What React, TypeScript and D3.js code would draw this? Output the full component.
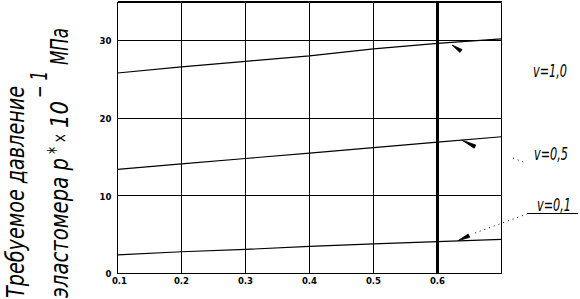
import React, { useEffect, useRef } from "react";
import * as d3 from "d3";

// ratio values along x
const xValues = [0.1, 0.2, 0.3, 0.4, 0.5, 0.6, 0.7];
// required pressure p* x10^-1 MPa for each v
const seriesNu10 = [25.8, 26.6, 27.3, 28.0, 28.9, 29.6, 30.2];
const seriesNu05 = [13.4, 14.1, 14.8, 15.5, 16.2, 16.9, 17.6];
const seriesNu01 = [2.4, 2.8, 3.1, 3.5, 3.8, 4.1, 4.4];
const seriesLabels = ["v=1,0", "v=0,5", "v=0,1"];

const xTicks = [0.1, 0.2, 0.3, 0.4, 0.5, 0.6];
const yTicks = [0, 10, 20, 30];

// pointer wedges [x0, y0, x1, y1] in data units (thin end -> thick end)
const pointers = [
    [0.6227, 29.4, 0.6367, 28.63],
    [0.6378, 17.18, 0.6586, 16.32],
    [0.632, 4.22, 0.6492, 4.86],
];
// label anchor points in data units
const labelPos = [
    [0.7492, 25.3],
    [0.7508, 14.6],
    [0.7555, 8.05],
];
// dotted leaders and underline, in data units
const leaders = [
    [0.718, 14.86, 0.7383, 14.22],
    [0.6586, 5.21, 0.7398, 7.66],
];
const underline = [0.7398, 7.75, 0.8195, 7.75];

const App = () => {
    const chartRef = useRef<HTMLDivElement>(null);

    useEffect(() => {
        const width = 580;
        const height = 299;

        d3.select(chartRef.current).select("svg").remove();

        const svg = d3
            .select(chartRef.current)
            .append("svg")
            .attr("width", width)
            .attr("height", height)
            .style("position", "absolute")
            .style("left", "0px")
            .style("top", "0px")
            .style("background", "#fff");

        const x = d3.scaleLinear().domain([0.1, 0.7]).range([117.5, 501.5]);
        const y = d3.scaleLinear().domain([0, 35]).range([273.5, 1.5]);

        const grid = svg.append("g").attr("stroke", "#000").attr("shape-rendering", "crispEdges");

        // horizontal grid
        grid.selectAll("line.h")
            .data(yTicks.filter((d) => d > 0))
            .join("line")
            .attr("x1", x(0.1))
            .attr("x2", x(0.7))
            .attr("y1", (d) => y(d))
            .attr("y2", (d) => y(d))
            .attr("stroke-width", 1);

        // vertical grid
        grid.selectAll("line.v")
            .data([0.2, 0.3, 0.4, 0.5, 0.6, 0.7])
            .join("line")
            .attr("x1", (d) => x(d))
            .attr("x2", (d) => x(d))
            .attr("y1", y(35))
            .attr("y2", y(0))
            .attr("stroke-width", (d) => (d === 0.6 ? 3 : 1));

        // frame: top thick, left and bottom
        grid.append("line")
            .attr("x1", x(0.1)).attr("x2", x(0.7))
            .attr("y1", y(35) + 0.5).attr("y2", y(35) + 0.5)
            .attr("stroke-width", 2);
        grid.append("line")
            .attr("x1", x(0.1)).attr("x2", x(0.1))
            .attr("y1", y(35)).attr("y2", y(0))
            .attr("stroke-width", 1.5);
        grid.append("line")
            .attr("x1", x(0.1)).attr("x2", x(0.7))
            .attr("y1", y(0)).attr("y2", y(0))
            .attr("stroke-width", 1.5);

        // tick labels
        const tickFont = "'DejaVu Sans Condensed', 'DejaVu Sans', sans-serif";
        svg.append("g")
            .selectAll("text")
            .data(xTicks)
            .join("text")
            .attr("x", (d) => x(d) + (d === 0.1 ? 2 : 0))
            .attr("y", 284)
            .attr("text-anchor", "middle")
            .attr("font-family", tickFont)
            .attr("font-weight", "bold")
            .attr("font-size", 9.5)
            .text((d) => d.toFixed(1));

        svg.append("g")
            .selectAll("text")
            .data(yTicks)
            .join("text")
            .attr("x", 111.5)
            .attr("y", (d) => (d === 0 ? y(d) + 3 : y(d) + 4))
            .attr("text-anchor", "end")
            .attr("font-family", tickFont)
            .attr("font-weight", "bold")
            .attr("font-size", 9.5)
            .text((d) => d);

        // curves
        const line = d3
            .line<number>()
            .x((_, i) => x(xValues[i]))
            .y((d) => y(d));

        [seriesNu10, seriesNu05, seriesNu01].forEach((s) => {
            svg.append("path")
                .datum(s)
                .attr("fill", "none")
                .attr("stroke", "#000")
                .attr("stroke-width", 1.2)
                .attr("d", line);
        });

        // pointer wedges
        pointers.forEach(([x0, y0, x1, y1]) => {
            const ax = x(x0), ay = y(y0), bx = x(x1), by = y(y1);
            const len = Math.hypot(bx - ax, by - ay);
            const nx = -(by - ay) / len, ny = (bx - ax) / len;
            const w = 1.8;
            svg.append("path")
                .attr("d", `M${ax},${ay}L${bx + nx * w},${by + ny * w}L${bx - nx * w},${by - ny * w}Z`)
                .attr("fill", "#000")
                .attr("stroke", "#000")
                .attr("stroke-width", 0.8);
        });

        // dotted leaders
        leaders.forEach(([x0, y0, x1, y1]) => {
            svg.append("line")
                .attr("x1", x(x0)).attr("y1", y(y0))
                .attr("x2", x(x1)).attr("y2", y(y1))
                .attr("stroke", "#000")
                .attr("stroke-width", 1)
                .attr("stroke-dasharray", "1,4");
        });
        svg.append("line")
            .attr("x1", x(underline[0])).attr("y1", y(underline[1]))
            .attr("x2", x(underline[2])).attr("y2", y(underline[3]))
            .attr("stroke", "#000")
            .attr("stroke-width", 1)
            .attr("shape-rendering", "crispEdges");

        // series labels, tall and narrow
        const labelFont = "'DejaVu Sans Condensed', 'DejaVu Sans', sans-serif";
        svg.append("g")
            .selectAll("text")
            .data(seriesLabels)
            .join("text")
            .attr("transform", (_, i) => `translate(${x(labelPos[i][0])},${y(labelPos[i][1])}) scale(1,1.4)`)
            .attr("font-family", labelFont)
            .attr("font-style", "italic")
            .attr("font-weight", 300)
            .attr("font-size", 12.5)
            .text((d) => d);

        // y axis title (rotated), stretched tall like drafting lettering
        const rot = (px: number, py: number) => `translate(${px},${py}) rotate(-90) scale(1,1.3)`;
        const title = svg.append("g")
            .attr("font-family", labelFont)
            .attr("font-style", "italic")
            .attr("font-weight", 300)
            .attr("fill", "#000");

        const piece = (px: number, py: number, size: number, len: number | null, txt: string) => {
            const t = title.append("text")
                .attr("transform", rot(px, py))
                .attr("font-size", size)
                .text(txt);
            if (len) t.attr("textLength", len).attr("lengthAdjust", "spacingAndGlyphs");
        };

        piece(24, 298, 19, 212, "Требуемое давление");
        piece(68, 298, 19, 140, "эластомера p");
        piece(63, 154, 16, null, "*");
        piece(66, 143, 13, null, "×");
        piece(68, 128, 19, 27, "10");
        piece(47, 98, 17, 27, "− 1");
        piece(68, 65, 19, 37, "МПа");
    }, []);

    return <div ref={chartRef}></div>;
};

export default App;
